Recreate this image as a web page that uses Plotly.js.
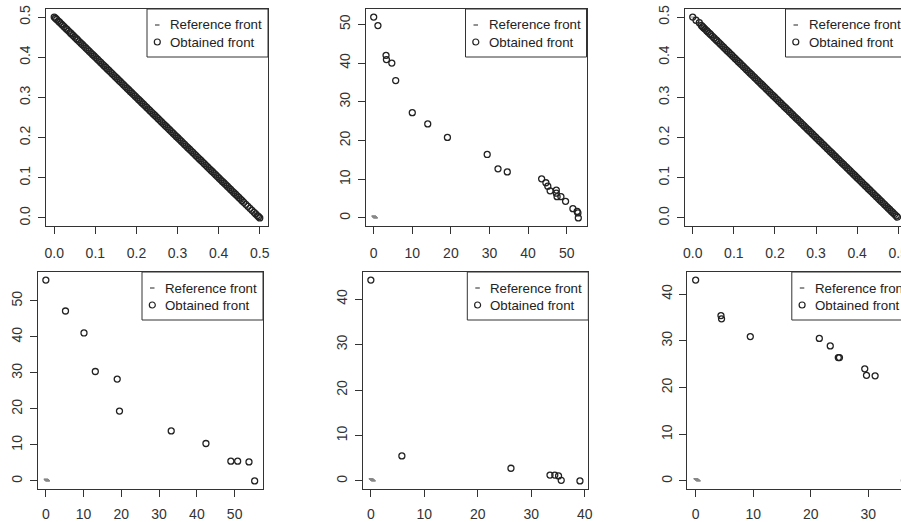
<!DOCTYPE html>
<html>
<head>
<meta charset="utf-8">
<script src="https://cdn.plot.ly/plotly-3.0.1.min.js"></script>
<style>
html,body{margin:0;padding:0;background:#fff;overflow:hidden;}
#chart{width:920px;height:522px;}
</style>
</head>
<body>
<div id="chart"></div>
<script>
// ---------- data ----------
const legendNames = ["Reference front", "Obtained front"];

// reference Pareto front (same in every panel)
const refX = [0.000, 0.025, 0.050, 0.075, 0.100, 0.125, 0.150, 0.175, 0.200, 0.225, 0.250,
              0.275, 0.300, 0.325, 0.350, 0.375, 0.400, 0.425, 0.450, 0.475, 0.500];
const refY = [0.500, 0.475, 0.450, 0.425, 0.400, 0.375, 0.350, 0.325, 0.300, 0.275, 0.250,
              0.225, 0.200, 0.175, 0.150, 0.125, 0.100, 0.075, 0.050, 0.025, 0.000];

// panel 1 obtained front
const p1X = [0.000, 0.003, 0.006, 0.010, 0.013, 0.017, 0.020, 0.024, 0.028, 0.031,
             0.035, 0.039, 0.042, 0.046, 0.050, 0.054, 0.057, 0.061, 0.065, 0.069,
             0.073, 0.077, 0.081, 0.085, 0.089, 0.093, 0.097, 0.101, 0.105, 0.109,
             0.113, 0.117, 0.121, 0.125, 0.129, 0.133, 0.137, 0.141, 0.145, 0.149,
             0.153, 0.157, 0.161, 0.165, 0.169, 0.173, 0.177, 0.181, 0.185, 0.189,
             0.193, 0.197, 0.201, 0.205, 0.209, 0.213, 0.217, 0.221, 0.225, 0.229,
             0.233, 0.237, 0.241, 0.245, 0.249, 0.253, 0.257, 0.261, 0.265, 0.269,
             0.273, 0.277, 0.281, 0.285, 0.289, 0.293, 0.297, 0.301, 0.305, 0.309,
             0.313, 0.317, 0.321, 0.325, 0.329, 0.333, 0.337, 0.341, 0.345, 0.349,
             0.353, 0.357, 0.361, 0.365, 0.369, 0.373, 0.377, 0.381, 0.385, 0.389,
             0.393, 0.397, 0.401, 0.405, 0.409, 0.413, 0.417, 0.421, 0.425, 0.429,
             0.433, 0.437, 0.441, 0.445, 0.449, 0.453, 0.457, 0.461, 0.466, 0.471,
             0.476, 0.481, 0.486, 0.490, 0.494, 0.497, 0.500];
const p1Y = [0.500, 0.497, 0.494, 0.490, 0.487, 0.483, 0.480, 0.476, 0.472, 0.469,
             0.465, 0.461, 0.458, 0.454, 0.450, 0.446, 0.443, 0.439, 0.435, 0.431,
             0.427, 0.423, 0.419, 0.415, 0.411, 0.407, 0.403, 0.399, 0.395, 0.391,
             0.387, 0.383, 0.379, 0.375, 0.371, 0.367, 0.363, 0.359, 0.355, 0.351,
             0.347, 0.343, 0.339, 0.335, 0.331, 0.327, 0.323, 0.319, 0.315, 0.311,
             0.307, 0.303, 0.299, 0.295, 0.291, 0.287, 0.283, 0.279, 0.275, 0.271,
             0.267, 0.263, 0.259, 0.255, 0.251, 0.247, 0.243, 0.239, 0.235, 0.231,
             0.227, 0.223, 0.219, 0.215, 0.211, 0.207, 0.203, 0.199, 0.195, 0.191,
             0.187, 0.183, 0.179, 0.175, 0.171, 0.167, 0.163, 0.159, 0.155, 0.151,
             0.147, 0.143, 0.139, 0.135, 0.131, 0.127, 0.123, 0.119, 0.115, 0.111,
             0.107, 0.103, 0.099, 0.095, 0.091, 0.087, 0.083, 0.079, 0.075, 0.071,
             0.067, 0.063, 0.059, 0.055, 0.051, 0.047, 0.043, 0.039, 0.034, 0.029,
             0.024, 0.019, 0.014, 0.010, 0.006, 0.003, 0.000];

// panel 2 obtained front
const p2X = [0.0, 1.1, 3.2, 3.3, 4.7, 5.7, 10.0, 14.0, 19.1, 29.4, 32.2, 34.6,
             43.5, 44.6, 45.1, 45.7, 47.3, 47.3, 47.5, 48.5, 49.7, 51.6, 52.7, 52.9, 53.0];
const p2Y = [51.9, 49.7, 42.0, 40.9, 40.0, 35.5, 27.2, 24.3, 20.8, 16.4, 12.7, 11.9,
             10.1, 9.1, 8.2, 7.0, 7.2, 6.4, 5.5, 5.5, 4.3, 2.4, 1.7, 1.3, 0.0];

// panel 3 obtained front
const p3X = [0.000, 0.008, 0.016, 0.021, 0.024, 0.027, 0.030, 0.034, 0.037, 0.041,
             0.044, 0.048, 0.052, 0.056, 0.059, 0.063, 0.067, 0.071, 0.075, 0.079,
             0.083, 0.087, 0.091, 0.095, 0.099, 0.103, 0.107, 0.111, 0.115, 0.119,
             0.123, 0.127, 0.131, 0.135, 0.139, 0.143, 0.147, 0.151, 0.155, 0.159,
             0.163, 0.167, 0.171, 0.175, 0.179, 0.183, 0.187, 0.191, 0.195, 0.199,
             0.203, 0.207, 0.211, 0.215, 0.219, 0.223, 0.227, 0.231, 0.235, 0.239,
             0.243, 0.247, 0.251, 0.255, 0.259, 0.263, 0.267, 0.271, 0.275, 0.279,
             0.283, 0.287, 0.291, 0.295, 0.299, 0.303, 0.307, 0.311, 0.315, 0.319,
             0.323, 0.327, 0.331, 0.335, 0.339, 0.343, 0.347, 0.351, 0.355, 0.359,
             0.363, 0.367, 0.371, 0.375, 0.379, 0.383, 0.387, 0.391, 0.395, 0.399,
             0.403, 0.407, 0.411, 0.415, 0.419, 0.423, 0.427, 0.431, 0.435, 0.439,
             0.443, 0.447, 0.451, 0.455, 0.459, 0.463, 0.467, 0.471, 0.475, 0.479,
             0.483, 0.487, 0.491, 0.495, 0.498];
const p3Y = [0.500, 0.492, 0.486, 0.479, 0.476, 0.473, 0.470, 0.466, 0.463, 0.459,
             0.456, 0.452, 0.448, 0.444, 0.441, 0.437, 0.433, 0.429, 0.425, 0.421,
             0.417, 0.413, 0.409, 0.405, 0.401, 0.397, 0.393, 0.389, 0.385, 0.381,
             0.377, 0.373, 0.369, 0.365, 0.361, 0.357, 0.353, 0.349, 0.345, 0.341,
             0.337, 0.333, 0.329, 0.325, 0.321, 0.317, 0.313, 0.309, 0.305, 0.301,
             0.297, 0.293, 0.289, 0.285, 0.281, 0.277, 0.273, 0.269, 0.265, 0.261,
             0.257, 0.253, 0.249, 0.245, 0.241, 0.237, 0.233, 0.229, 0.225, 0.221,
             0.217, 0.213, 0.209, 0.205, 0.201, 0.197, 0.193, 0.189, 0.185, 0.181,
             0.177, 0.173, 0.169, 0.165, 0.161, 0.157, 0.153, 0.149, 0.145, 0.141,
             0.137, 0.133, 0.129, 0.125, 0.121, 0.117, 0.113, 0.109, 0.105, 0.101,
             0.097, 0.093, 0.089, 0.085, 0.081, 0.077, 0.073, 0.069, 0.065, 0.061,
             0.057, 0.053, 0.049, 0.045, 0.041, 0.037, 0.033, 0.029, 0.025, 0.021,
             0.017, 0.013, 0.009, 0.005, 0.002];

// panel 4 obtained front
const p4X = [0.0, 5.2, 10.1, 13.1, 18.9, 19.5, 33.2, 42.4, 49.0, 50.8, 53.8, 55.3];
const p4Y = [55.8, 47.2, 41.1, 30.4, 28.3, 19.4, 13.9, 10.4, 5.5, 5.5, 5.3, 0.0];

// panel 5 obtained front
const p5X = [0.0, 5.8, 26.2, 33.5, 34.4, 35.1, 35.6, 39.1];
const p5Y = [44.2, 5.5, 2.8, 1.3, 1.3, 1.1, 0.15, 0.0];

// panel 6 obtained front
const p6X = [0.0, 4.4, 4.5, 9.5, 21.5, 23.4, 24.8, 25.0, 29.4, 29.7, 31.2, 36.3];
const p6Y = [43.0, 35.4, 34.7, 30.9, 30.5, 28.9, 26.4, 26.4, 24.0, 22.6, 22.5, 0.1];

const panelsX = [p1X, p2X, p3X, p4X, p5X, p6X];
const panelsY = [p1Y, p2Y, p3Y, p4Y, p5Y, p6Y];
const tickSteps = [0.1, 10, 0.1, 10, 10, 10];
const tickFormats = [".1f", "d", ".1f", "d", "d", "d"];

// ---------- layout (pixel boxes) ----------
const W = 920, H = 522;
const boxes = [
  [46, 268, 9, 226], [365.5, 586.5, 9, 226], [684.5, 906.5, 9, 226],
  [37.5, 263, 272, 489], [362.5, 588.3, 272, 489], [687.3, 912.8, 272, 489]
];
const xStandoff = [7, 7, 7, 5, 5, 5];
const ink = "#333";
const fam = "Liberation Sans, Arial, sans-serif";
const font = {family: fam, size: 14, color: "#333"};
const LEG_W = 121, LEG_H = 48;

function rRange(a, b) {
  const all = a.concat(b);
  const mn = Math.min(...all), mx = Math.max(...all);
  const e = 0.04 * (mx - mn);
  return [mn - e, mx + e];
}
const px = v => v / W;
const py = v => 1 - v / H;

const traces = [];
const shapes = [];
const annotations = [];
const layout = {
  width: W, height: H,
  margin: {l: 0, r: 0, t: 0, b: 0},
  paper_bgcolor: "#fff", plot_bgcolor: "#fff",
  font: font,
  showlegend: false
};

for (let i = 0; i < 6; i++) {
  const n = i + 1;
  const xa = "x" + (n === 1 ? "" : n), ya = "y" + (n === 1 ? "" : n);
  const [l, r, t, b] = boxes[i];
  const axBase = {
    showline: true, mirror: true, linecolor: ink, linewidth: 1,
    ticks: "outside", ticklen: 7, tickwidth: 1, tickcolor: ink,
    showgrid: false, zeroline: false, fixedrange: true,
    tick0: 0, dtick: tickSteps[i], tickformat: tickFormats[i],
    tickfont: font
  };
  layout["xaxis" + (n === 1 ? "" : n)] = Object.assign({}, axBase, {
    domain: [l / W, r / W], anchor: ya,
    range: rRange(refX, panelsX[i]), ticklabelstandoff: xStandoff[i]
  });
  layout["yaxis" + (n === 1 ? "" : n)] = Object.assign({}, axBase, {
    domain: [1 - b / H, 1 - t / H], anchor: xa,
    range: rRange(refY, panelsY[i]), tickangle: -90, ticklabelstandoff: 2
  });
  traces.push({
    type: "scatter", mode: "markers", x: refX, y: refY,
    xaxis: xa, yaxis: ya, name: legendNames[0],
    marker: {symbol: "line-ew", size: 3, color: "#888", line: {color: "#888", width: 1}},
    hoverinfo: "skip"
  });
  traces.push({
    type: "scatter", mode: "markers", x: panelsX[i], y: panelsY[i],
    xaxis: xa, yaxis: ya, name: legendNames[1],
    marker: {symbol: "circle-open", size: 6, color: "#222", line: {color: "#222", width: 1.3}},
    hoverinfo: "skip"
  });

  // legend box (top-right of each panel, like R's legend("topright"))
  const L = r - LEG_W, T = t;
  shapes.push({type: "rect", xref: "paper", yref: "paper",
    x0: px(L), x1: px(r), y0: py(T + LEG_H), y1: py(T),
    line: {color: ink, width: 1}, fillcolor: "#fff", layer: "above"});
  shapes.push({type: "line", xref: "paper", yref: "paper",
    x0: px(L + 8), x1: px(L + 12.5), y0: py(T + 16), y1: py(T + 16),
    line: {color: "#555", width: 1.3}, layer: "above"});
  shapes.push({type: "circle", xref: "paper", yref: "paper",
    x0: px(L + 7.3), x1: px(L + 13.3), y0: py(T + 36), y1: py(T + 30),
    line: {color: "#222", width: 1.2}, layer: "above"});
  legendNames.forEach((txt, k) => {
    annotations.push({xref: "paper", yref: "paper",
      x: px(L + 21), y: py(T + 16 + k * 17), xanchor: "left", yanchor: "middle",
      text: txt, showarrow: false, font: {family: fam, size: 13.3, color: "#222"}});
  });
}
layout.shapes = shapes;
layout.annotations = annotations;

Plotly.newPlot("chart", traces, layout, {displayModeBar: false, staticPlot: true});
</script>
</body>
</html>
